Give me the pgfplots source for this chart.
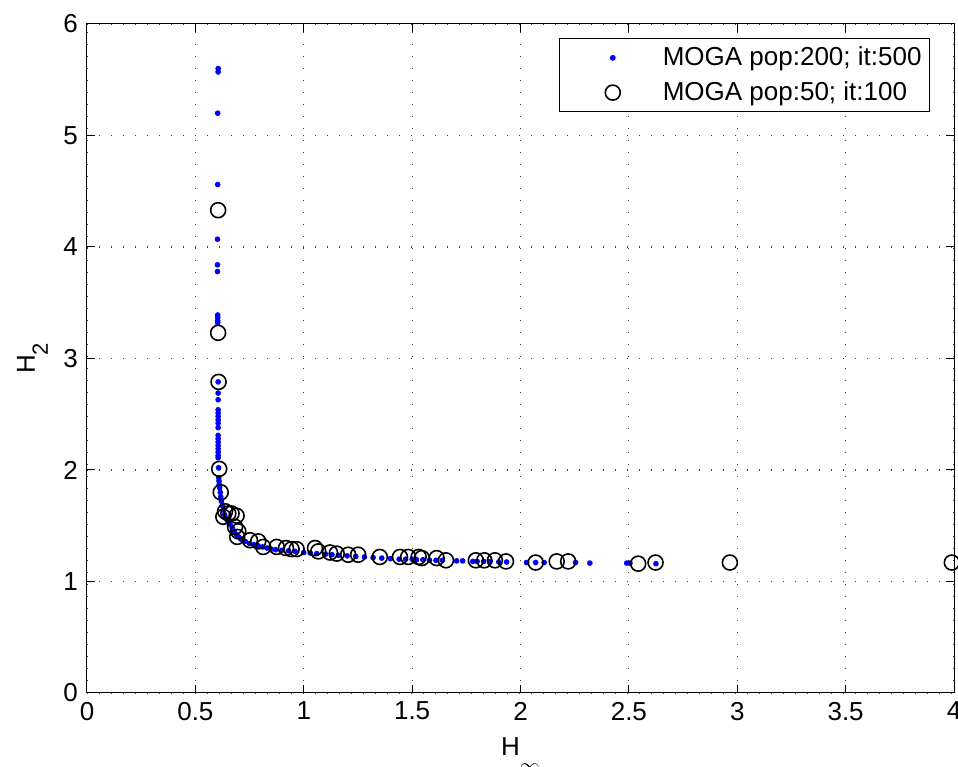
\documentclass[border=0pt]{standalone}
\usepackage{fontspec}
\setmainfont{Liberation Sans}
\usepackage{pgfplots}
\pgfplotsset{compat=1.18}
\usetikzlibrary{calc}
\begin{document}
\fontsize{13}{15.6}\selectfont
\begin{tikzpicture}
\begin{axis}[name=ax, scale only axis, width=433.5pt, height=334.5pt,
  xmin=0, xmax=4, ymin=0, ymax=6,
  xtick={0,0.5,1,1.5,2,2.5,3,3.5,4}, ytick={0,1,2,3,4,5,6},
  grid=major, grid style={black!75, line width=0.55pt, dash pattern=on 0.55pt off 5.45pt},
  tick align=inside, major tick length=4pt, tick style={black, line width=0.5pt},
  axis line style={line width=0.5pt},
  /pgf/number format/assume math mode=true,
  ticklabel style={font=\fontsize{13}{15.6}\selectfont},
  xlabel={H\raisebox{-8.5pt}{\fontsize{10}{12}\selectfont$\infty$}},
  ylabel={H\raisebox{-6.5pt}{\fontsize{11}{13}\selectfont 2}},
  xlabel style={at={(axis description cs:0.5,-0.0927)}, anchor=base, font=\fontsize{13}{15.6}\selectfont},
  ylabel style={at={(axis description cs:-0.06,0.5)}, anchor=base, font=\fontsize{13}{15.6}\selectfont},
  legend style={at={(axis description cs:1,1)}, anchor=north east, xshift=-12pt, yshift=-7pt,
    draw=black, line width=0.5pt, fill=white, inner xsep=2pt, inner ysep=2pt, row sep=2pt,
    font=\fontsize{13}{15.6}\selectfont, cells={anchor=west}},
  legend image code/.code={\path[draw=none] (0pt,0pt) rectangle (47.5pt,0pt); \draw[#1] plot coordinates {(24.5pt,0pt)};},
]
\addplot[only marks, mark=*, mark size=1.2pt, color=blue] coordinates {
(0.605,5.60)(0.605,5.57)(0.603,5.20)(0.603,4.56)(0.602,4.07)(0.602,3.84)(0.602,3.78)
(0.603,3.39)(0.603,3.37)(0.603,3.34)(0.603,3.32)(0.605,2.79)(0.605,2.69)(0.605,2.63)
(0.605,2.54)(0.605,2.51)(0.605,2.48)(0.605,2.45)(0.605,2.42)(0.605,2.38)(0.605,2.31)
(0.605,2.28)(0.605,2.25)(0.605,2.22)(0.605,2.19)(0.605,2.16)(0.605,2.13)(0.605,2.11)
(0.607,2.02)(0.608,1.93)(0.609,1.90)(0.610,1.87)(0.612,1.84)(0.615,1.80)(0.617,1.76)
(0.620,1.72)(0.625,1.68)(0.630,1.64)(0.635,1.60)(0.640,1.57)(0.650,1.54)(0.660,1.51)
(0.670,1.48)(0.680,1.45)(0.690,1.42)(0.700,1.40)(0.710,1.38)(0.730,1.36)(0.750,1.34)
(0.770,1.33)(0.790,1.32)(0.810,1.31)(0.830,1.30)(0.850,1.29)(0.870,1.285)(0.900,1.28)
(0.930,1.275)(0.960,1.27)(1.000,1.26)(1.030,1.255)(1.060,1.25)(1.100,1.245)(1.130,1.24)
(1.160,1.235)(1.200,1.23)(1.240,1.225)(1.280,1.22)(1.320,1.215)(1.360,1.21)(1.400,1.205)
(1.440,1.20)(1.470,1.20)(1.500,1.20)(1.520,1.195)(1.550,1.195)(1.580,1.19)(1.610,1.19)
(1.640,1.19)(1.705,1.185)(1.733,1.185)(1.780,1.18)(1.800,1.18)(1.830,1.18)(1.860,1.18)
(1.900,1.175)(1.936,1.175)(2.028,1.17)(2.070,1.17)(2.109,1.17)(2.254,1.17)(2.320,1.165)
(2.490,1.165)(2.505,1.165)(2.625,1.16)
};
\addlegendentry{MOGA pop:200; it:500}
\addplot[only marks, mark=o, mark size=3.75pt, color=black, line width=0.8pt] coordinates {
(0.605,4.33)(0.605,3.23)(0.607,2.79)(0.610,2.01)(0.617,1.80)(0.629,1.58)(0.637,1.63)
(0.652,1.61)(0.667,1.61)(0.690,1.59)(0.683,1.49)(0.698,1.45)(0.693,1.40)(0.752,1.37)
(0.790,1.36)(0.813,1.31)(0.875,1.31)(0.918,1.30)(0.944,1.29)(0.967,1.29)(1.052,1.30)
(1.067,1.27)(1.121,1.26)(1.152,1.25)(1.205,1.24)(1.251,1.24)(1.351,1.22)(1.444,1.22)
(1.482,1.22)(1.530,1.22)(1.545,1.21)(1.613,1.21)(1.656,1.19)(1.794,1.19)(1.833,1.19)
(1.882,1.19)(1.933,1.18)(2.070,1.17)(2.167,1.18)(2.220,1.18)(2.543,1.16)(2.623,1.17)
(2.966,1.17)(3.990,1.17)
};
\addlegendentry{MOGA pop:50; it:100}
\end{axis}
\pgfresetboundingbox
\path ($(ax.south west)+(-43.5pt,-37pt)$) rectangle ($(ax.north east)+(2pt,12pt)$);
\end{tikzpicture}
\end{document}
